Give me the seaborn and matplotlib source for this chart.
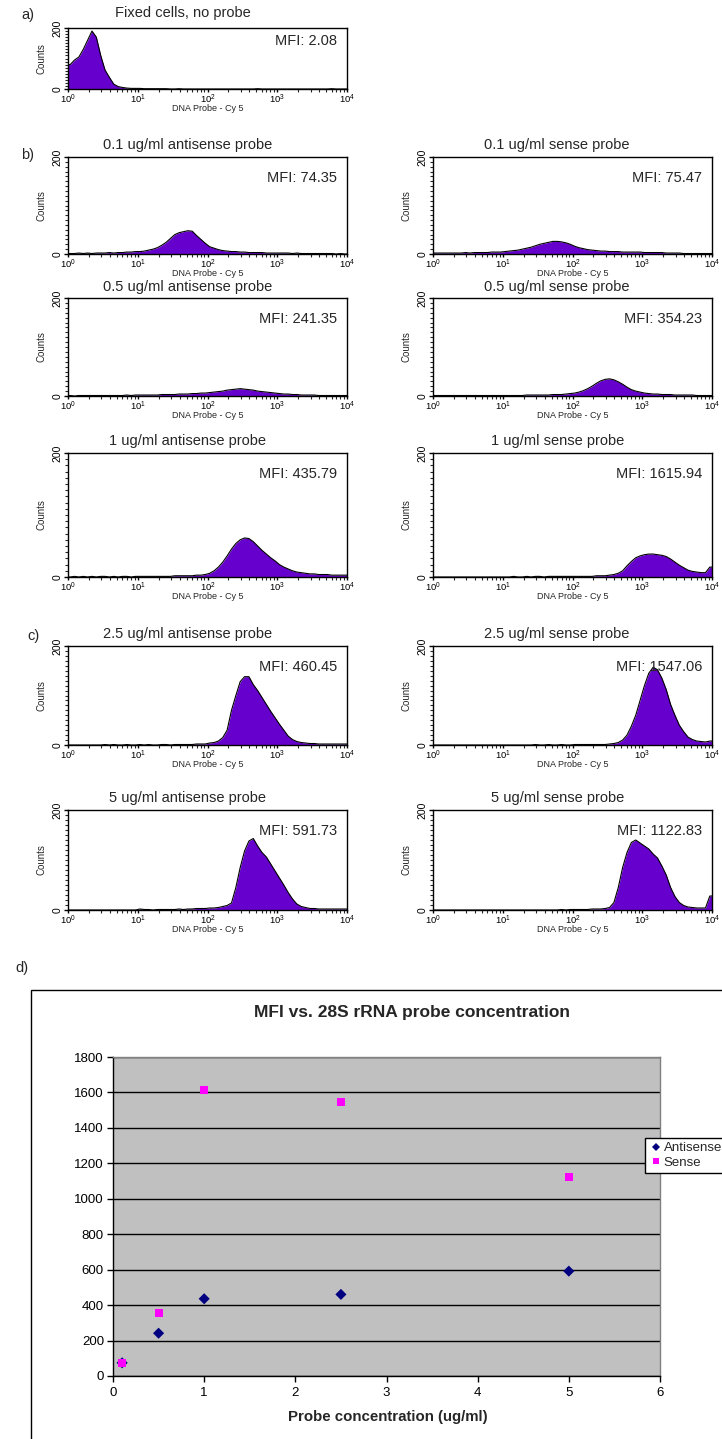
import numpy as np
import pandas as pd
import matplotlib
matplotlib.use("Agg")
import matplotlib.pyplot as plt
from matplotlib.ticker import LogLocator, MultipleLocator, NullFormatter, FixedLocator
from matplotlib.patches import Rectangle
import seaborn as sns

# ---------------- data ----------------
# Flow cytometry histograms: counts per channel, 16 channels per decade from 10^0 to 10^4
hist_fixed = [80, 95, 105, 130, 160, 190, 170, 110, 62, 38, 16, 8, 5, 3, 2, 2,
              2, 1, 1, 1, 1, 1, 1, 0, 0, 1, 0, 0, 0, 0, 0, 0,
              0, 0, 0, 0, 0, 0, 0, 0, 0, 0, 0, 1, 0, 0, 0, 0,
              0, 0, 0, 0, 0, 0, 0, 0, 0, 0, 0, 0, 1, 0, 0, 0]
hist_anti_01 = [1, 1, 2, 1, 2, 1, 2, 2, 2, 3, 2, 3, 3, 4, 4, 5,
                5, 6, 8, 10, 13, 18, 24, 32, 40, 44, 46, 48, 47, 38, 30, 22,
                15, 12, 9, 7, 6, 5, 5, 4, 4, 3, 3, 3, 3, 2, 2, 2,
                2, 2, 2, 1, 2, 1, 1, 1, 1, 1, 1, 1, 1, 0, 1, 0]
hist_sense_01 = [2, 2, 2, 2, 2, 2, 2, 3, 2, 3, 3, 3, 3, 4, 4, 4,
                 5, 6, 7, 8, 10, 12, 14, 17, 20, 22, 24, 26, 26, 25, 23, 20,
                 16, 13, 11, 9, 8, 7, 6, 6, 5, 5, 5, 4, 4, 4, 4, 4,
                 3, 3, 3, 3, 3, 2, 2, 2, 2, 1, 1, 1, 1, 1, 1, 1]
hist_anti_05 = [1, 0, 1, 1, 1, 1, 1, 1, 1, 1, 1, 1, 1, 2, 1, 2,
                2, 2, 2, 2, 2, 3, 3, 3, 3, 4, 4, 4, 5, 5, 6, 6,
                7, 8, 9, 10, 12, 13, 14, 15, 14, 13, 12, 10, 9, 8, 7, 6,
                5, 4, 4, 3, 3, 2, 2, 2, 2, 1, 1, 1, 1, 1, 1, 1]
hist_sense_05 = [1, 1, 1, 1, 1, 1, 1, 1, 1, 1, 1, 1, 1, 1, 1, 1,
                 1, 1, 1, 1, 1, 2, 2, 2, 2, 2, 2, 3, 3, 3, 4, 5,
                 6, 8, 11, 15, 20, 26, 31, 34, 35, 33, 29, 24, 18, 13, 10, 8,
                 6, 5, 4, 4, 3, 3, 3, 2, 2, 2, 2, 2, 1, 1, 1, 1]
hist_anti_1 = [0, 1, 0, 1, 0, 1, 0, 1, 1, 0, 1, 0, 1, 1, 0, 1,
               1, 1, 1, 1, 1, 1, 1, 1, 2, 2, 2, 2, 2, 3, 3, 4,
               6, 10, 16, 24, 34, 45, 54, 60, 63, 62, 57, 50, 43, 37, 31, 26,
               20, 16, 13, 10, 8, 7, 6, 5, 5, 4, 4, 4, 3, 3, 3, 3]
hist_sense_1 = [0, 0, 0, 0, 0, 0, 0, 0, 0, 0, 0, 0, 0, 0, 0, 0,
                0, 0, 1, 0, 0, 1, 0, 1, 1, 0, 1, 1, 1, 1, 1, 1,
                1, 1, 1, 1, 1, 2, 2, 2, 3, 4, 6, 10, 18, 25, 31, 34,
                36, 37, 37, 36, 35, 33, 29, 24, 19, 15, 11, 9, 8, 7, 7, 16]
hist_anti_25 = [0, 0, 0, 0, 0, 0, 0, 0, 1, 0, 1, 0, 0, 1, 0, 0,
                1, 0, 1, 0, 0, 1, 1, 0, 1, 1, 1, 1, 1, 2, 2, 2,
                4, 5, 8, 15, 30, 70, 100, 128, 138, 138, 122, 110, 96, 82, 68, 55,
                42, 30, 18, 11, 7, 5, 4, 3, 3, 2, 2, 2, 2, 2, 2, 2]
hist_sense_25 = [0, 0, 0, 0, 0, 0, 0, 0, 0, 0, 0, 0, 0, 0, 0, 0,
                 0, 0, 0, 0, 0, 0, 0, 1, 0, 0, 1, 0, 0, 1, 0, 0,
                 1, 1, 1, 1, 1, 1, 1, 1, 2, 3, 5, 10, 20, 38, 60, 90,
                 120, 145, 157, 152, 135, 112, 82, 60, 40, 27, 16, 11, 8, 7, 6, 8]
hist_anti_5 = [0, 0, 0, 0, 0, 0, 0, 0, 0, 0, 0, 0, 0, 0, 0, 0,
               2, 1, 1, 0, 1, 1, 1, 1, 1, 2, 1, 2, 2, 3, 3, 3,
               4, 4, 5, 7, 9, 14, 45, 85, 118, 138, 143, 128, 115, 106, 92, 78,
               64, 50, 35, 22, 12, 7, 5, 3, 3, 2, 2, 2, 2, 2, 2, 2]
hist_sense_5 = [0, 0, 0, 0, 0, 0, 0, 0, 0, 0, 0, 0, 0, 0, 0, 0,
                0, 0, 0, 0, 0, 0, 0, 0, 0, 0, 0, 0, 0, 1, 0, 1,
                1, 1, 1, 1, 2, 2, 2, 3, 5, 15, 45, 85, 115, 135, 140, 134,
                128, 122, 112, 104, 88, 70, 45, 27, 15, 9, 6, 5, 4, 4, 4, 28]

panel_titles = ["Fixed cells, no probe",
                "0.1 ug/ml antisense probe", "0.1 ug/ml sense probe",
                "0.5 ug/ml antisense probe", "0.5 ug/ml sense probe",
                "1 ug/ml antisense probe", "1 ug/ml sense probe",
                "2.5 ug/ml antisense probe", "2.5 ug/ml sense probe",
                "5 ug/ml antisense probe", "5 ug/ml sense probe"]

# Mean fluorescence intensities
concentrations = [0.1, 0.5, 1, 2.5, 5]
mfi_fixed = 2.08
mfi_antisense = [74.35, 241.35, 435.79, 460.45, 591.73]
mfi_sense = [75.47, 354.23, 1615.94, 1547.06, 1122.83]

# ---------------- style ----------------
sns.set_style("ticks")
plt.rcParams["font.family"] = ["Liberation Sans", "DejaVu Sans"]
plt.rcParams["axes.linewidth"] = 1.0
plt.rcParams["mathtext.fontset"] = "custom"
plt.rcParams["mathtext.rm"] = "Liberation Sans"
plt.rcParams["mathtext.it"] = "Liberation Sans:italic"

W, H = 722, 1439
fig = plt.figure(figsize=(W / 100, H / 100), dpi=100)
fig.patch.set_facecolor("white")


def box(l, t, r, b):
    return [l / W, 1 - b / H, (r - l) / W, (b - t) / H]


edges = 10 ** (np.arange(65) / 16)
centers = np.sqrt(edges[:-1] * edges[1:])
FILL = "#6600CC"
PX = 0.72  # points per pixel at 100 dpi


def histogram(rect, counts, title, mfi, title_x=0.43, title_up=12, mfi_drop=21,
              xlabel_drop=19.5):
    ax = fig.add_axes(box(*rect))
    h_px = rect[3] - rect[1]
    xs = np.concatenate([[1.0], centers, [1e4]])
    ys = np.concatenate([[counts[0]], counts, [counts[-1]]])
    ax.fill_between(xs, 0, ys, color=FILL, lw=0)
    ax.plot(xs, ys, color="black", lw=0.8)
    ax.set_xscale("log")
    ax.set_xlim(1, 1e4)
    ax.set_ylim(0, 200)
    ax.xaxis.set_major_locator(FixedLocator([1, 10, 100, 1000, 10000]))
    ax.set_xticklabels([r"$10^{0}$", r"$10^{1}$", r"$10^{2}$", r"$10^{3}$", r"$10^{4}$"])
    ax.xaxis.set_minor_locator(LogLocator(base=10, subs=np.arange(2, 10)))
    ax.xaxis.set_minor_formatter(NullFormatter())
    ax.set_yticks([0, 200])
    ax.set_yticklabels(["0", "200"], rotation=90, va="center")
    ax.yaxis.set_minor_locator(MultipleLocator(10))
    ax.tick_params(axis="both", which="major", direction="out", length=3, width=1,
                   labelsize=7.5, pad=1, colors="black")
    ax.tick_params(axis="both", which="minor", direction="out", length=2, width=0.8)
    ax.tick_params(axis="x", which="major", labelsize=6.8, pad=0, length=2.5)
    ax.set_ylabel("Counts", fontsize=7, labelpad=4)
    ax.set_xlabel("DNA Probe - Cy 5", fontsize=6.5)
    ax.xaxis.label.set_va("center")
    ax.xaxis.set_label_coords(0.5, -xlabel_drop / h_px)
    for s in ax.spines.values():
        s.set_visible(True)
        s.set_color("black")
    ax.annotate(title, xy=(title_x, 1), xycoords="axes fraction",
                xytext=(0, title_up * PX), textcoords="offset points",
                ha="center", va="center", fontsize=10.5)
    ax.annotate(f"MFI: {mfi:.2f}", xy=(0.965, 1), xycoords="axes fraction",
                xytext=(0, -mfi_drop * PX), textcoords="offset points",
                ha="right", va="center", fontsize=10.5)
    return ax


# a) unstained control
histogram((68, 28, 347, 89), hist_fixed, panel_titles[0], mfi_fixed,
          title_x=0.41, title_up=15, mfi_drop=13)

# b) and c) antisense (left) versus sense (right) probes
rows = [(157, 254), (298, 396), (453, 577), (646, 745), (810, 910)]
left_hists = [hist_anti_01, hist_anti_05, hist_anti_1, hist_anti_25, hist_anti_5]
right_hists = [hist_sense_01, hist_sense_05, hist_sense_1, hist_sense_25, hist_sense_5]
for i, (t, b) in enumerate(rows):
    up = 11 if i == 1 else 12
    histogram((68, t, 347, b), left_hists[i], panel_titles[1 + 2 * i], mfi_antisense[i],
              title_up=up)
    histogram((433, t, 712, b), right_hists[i], panel_titles[2 + 2 * i], mfi_sense[i],
              title_x=0.445, title_up=up)

for lab, x, y in [("a)", 28, 15), ("b)", 28, 155), ("c)", 33, 636), ("d)", 22, 968)]:
    fig.text(x / W, 1 - y / H, lab, fontsize=10.5, ha="center", va="center")

# d) MFI summary chart
fig.add_artist(Rectangle((31 / W, -0.05), 1.0, (1 - 990 / H) + 0.05,
                         transform=fig.transFigure, fill=False, ec="black", lw=1.0))

ax = fig.add_axes(box(113, 1057, 660, 1376))
ax.set_facecolor("#C0C0C0")
df = pd.DataFrame({
    "conc": concentrations * 2,
    "mfi": mfi_antisense + mfi_sense,
    "probe": ["Antisense"] * 5 + ["Sense"] * 5,
})
sns.scatterplot(data=df, x="conc", y="mfi", hue="probe", style="probe",
                palette={"Antisense": "#000080", "Sense": "#FF00FF"},
                markers={"Antisense": "D", "Sense": "s"},
                s=32, linewidth=0, ax=ax, zorder=3)
ax.set_xlim(0, 6)
ax.set_ylim(0, 1800)
ax.set_xticks(range(0, 7))
ax.set_yticks(range(0, 1801, 200))
ax.grid(axis="y", color="black", lw=1.0, zorder=1)
ax.set_axisbelow(True)
ax.tick_params(axis="both", direction="out", length=4, width=1, labelsize=9.5,
               pad=2.5, colors="black")
ax.tick_params(axis="x", pad=4)
ax.set_xlabel("")
ax.set_ylabel("")
for side in ["left", "bottom"]:
    ax.spines[side].set_color("black")
for side in ["top", "right"]:
    ax.spines[side].set_visible(True)
    ax.spines[side].set_color("#808080")

fig.text(412 / W, 1 - 1012 / H, "MFI vs. 28S rRNA probe concentration",
         fontsize=12.5, fontweight="bold", ha="center", va="center")
fig.text(388 / W, 1 - 1417 / H, "Probe concentration (ug/ml)",
         fontsize=10.8, fontweight="bold", ha="center", va="center")

leg = ax.legend(loc="upper left", bbox_to_anchor=(645 / W, 1 - 1138 / H),
                bbox_transform=fig.transFigure, frameon=True, fancybox=False,
                edgecolor="black", framealpha=1, fontsize=9.5, handletextpad=0.1,
                borderpad=0.3, labelspacing=0.2, handlelength=1.0, markerscale=0.8,
                borderaxespad=0)
leg.get_frame().set_linewidth(1.0)

fig.savefig("out.png", dpi=100)
